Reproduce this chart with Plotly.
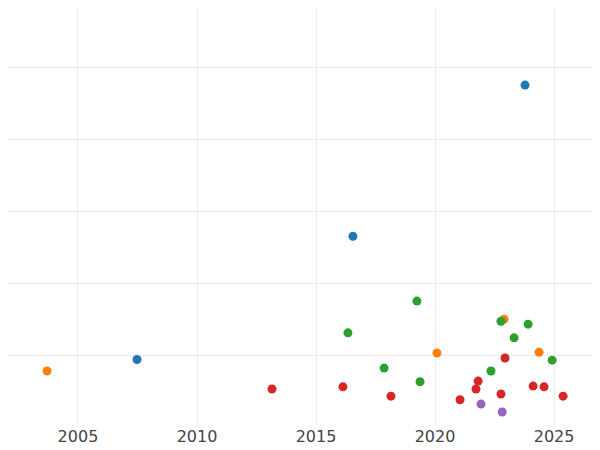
import plotly.graph_objects as go

groups = ["A", "B", "C", "D", "E"]
colors = ["#1f77b4", "#ff7f0e", "#2ca02c", "#d62728", "#9467bd"]
xs = [
    [2023.78, 2016.55, 2007.48],
    [2003.70, 2022.90, 2020.08, 2024.37],
    [2019.24, 2016.34, 2022.77, 2023.91, 2023.32, 2017.86, 2022.35, 2019.37, 2024.92],
    [2013.15, 2016.13, 2018.15, 2021.05, 2021.72, 2021.81, 2022.94, 2022.77, 2024.12, 2024.58, 2025.38],
    [2021.93, 2022.82],
]
ys = [
    [4.75, 2.65, 0.94],
    [0.78, 1.50, 1.03, 1.04],
    [1.75, 1.31, 1.47, 1.43, 1.24, 0.82, 0.78, 0.63, 0.93],
    [0.53, 0.56, 0.43, 0.38, 0.53, 0.64, 0.96, 0.46, 0.57, 0.56, 0.43],
    [0.32, 0.21],
]

fig = go.Figure()
for g, c, x, y in zip(groups, colors, xs, ys):
    fig.add_trace(go.Scatter(x=x, y=y, mode="markers", name=g,
                             marker=dict(color=c, size=9)))

fig.update_layout(
    width=592, height=442, showlegend=False,
    paper_bgcolor="white", plot_bgcolor="white",
    margin=dict(l=0, r=0, t=0, b=25),
    font=dict(family="DejaVu Sans", size=16, color="#444"),
)
fig.update_xaxes(range=[2002.06, 2026.93], tickvals=[2005, 2010, 2015, 2020, 2025],
                 showgrid=True, gridcolor="#ebebeb", zeroline=False, showline=False, ticks="")
fig.update_yaxes(range=[0.03, 5.82], dtick=1, showticklabels=False,
                 showgrid=True, gridcolor="#ebebeb", zeroline=False, showline=False)
fig.write_html("out.html")
